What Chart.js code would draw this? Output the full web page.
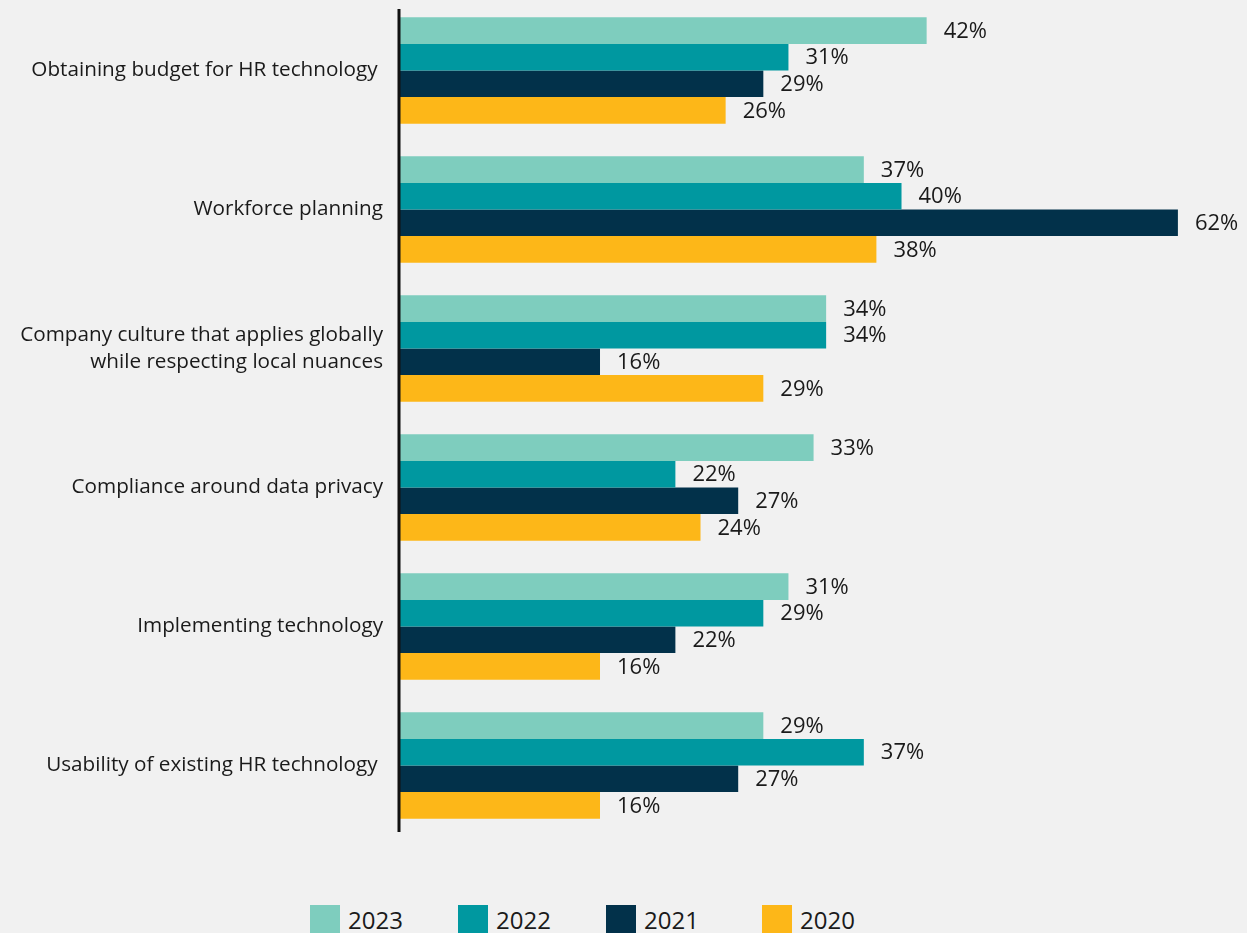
<!DOCTYPE html>
<html>
<head>
<meta charset="utf-8">
<script src="https://cdn.jsdelivr.net/npm/chart.js@4/dist/chart.umd.min.js"></script>
<style>
    html, body { margin: 0; padding: 0; background: #f1f1f1; overflow: hidden; }
    body { width: 1247px; height: 933px; position: relative; font-family: "Open Sans", sans-serif; }
    #wrap { position: absolute; left: 0; top: 0; width: 1247px; height: 836px; }
    #legend { position: absolute; top: 905px; left: 310px; display: flex; }
    .item { display: flex; align-items: flex-start; color: #1a1a1a; font-size: 24px; min-width: 148px; }
    .item:nth-child(3) { min-width: 156px; }
    .box { width: 30px; height: 30px; margin-right: 8px; }
    .item span { line-height: 30px; }
</style>
</head>
<body>
<div id="wrap"><canvas id="barChart"></canvas></div>
<div id="legend"></div>
<script>
// Categorías y valores por año (%)
const categories = [
    'Obtaining budget for HR technology ',
    'Workforce planning',
    ['Company culture that applies globally', 'while respecting local nuances'],
    'Compliance around data privacy',
    'Implementing technology',
    'Usability of existing HR technology '
];
const years = ['2023', '2022', '2021', '2020'];
const values2023 = [42, 37, 34, 33, 31, 29];
const values2022 = [31, 40, 34, 22, 29, 37];
const values2021 = [29, 62, 16, 27, 22, 27];
const values2020 = [26, 38, 29, 24, 16, 16];

const COLORES = ['#7ecdbe', '#0098a0', '#02314a', '#fdb718'];
const TEXTO = '#1a1a1a';
const FUENTE = '"Open Sans", sans-serif';

// Etiquetas de valor al final de cada barra + línea del eje vertical
const etiquetasValor = {
    id: 'etiquetasValor',
    afterDatasetsDraw(chart) {
        const ctx = chart.ctx;
        const area = chart.chartArea;
        ctx.save();
        ctx.strokeStyle = '#111111';
        ctx.lineWidth = 3;
        ctx.beginPath();
        ctx.moveTo(area.left, area.top + 8);
        ctx.lineTo(area.left, area.bottom - 3);
        ctx.stroke();

        ctx.font = '22px ' + FUENTE;
        ctx.fillStyle = TEXTO;
        ctx.textAlign = 'left';
        ctx.textBaseline = 'middle';
        chart.data.datasets.forEach((ds, i) => {
            chart.getDatasetMeta(i).data.forEach((bar, j) => {
                ctx.fillText(ds.data[j] + '%', bar.x + 17, bar.y + 1);
            });
        });
        ctx.restore();
    }
};

const seriesValores = [values2023, values2022, values2021, values2020];

new Chart(document.getElementById('barChart').getContext('2d'), {
    type: 'bar',
    data: {
        labels: categories,
        datasets: years.map((y, i) => ({
            label: y,
            data: seriesValores[i],
            backgroundColor: COLORES[i],
            borderWidth: 0,
            categoryPercentage: 0.765,
            barPercentage: 1
        }))
    },
    options: {
        indexAxis: 'y',
        responsive: true,
        maintainAspectRatio: false,
        animation: false,
        layout: { padding: { top: 1, bottom: 1, left: 0, right: 0 } },
        scales: {
            x: {
                display: false,
                min: 0,
                max: 67.5
            },
            y: {
                grid: { display: false, drawTicks: false },
                border: { display: false },
                ticks: {
                    color: TEXTO,
                    padding: 16,
                    font: { family: FUENTE, size: 20.7, lineHeight: 1.28 }
                },
                afterFit: axis => {
                    axis.width = 399;
                    axis.paddingTop = 0;
                    axis.paddingBottom = 0;
                }
            }
        },
        plugins: {
            legend: { display: false },
            tooltip: { enabled: false }
        }
    },
    plugins: [etiquetasValor]
});

// Leyenda construida a partir de los años
const leyenda = document.getElementById('legend');
years.forEach((y, i) => {
    const item = document.createElement('div');
    item.className = 'item';
    item.innerHTML = '<div class="box" style="background:' + COLORES[i] + '"></div><span>' + y + '</span>';
    leyenda.appendChild(item);
});
</script>
</body>
</html>
